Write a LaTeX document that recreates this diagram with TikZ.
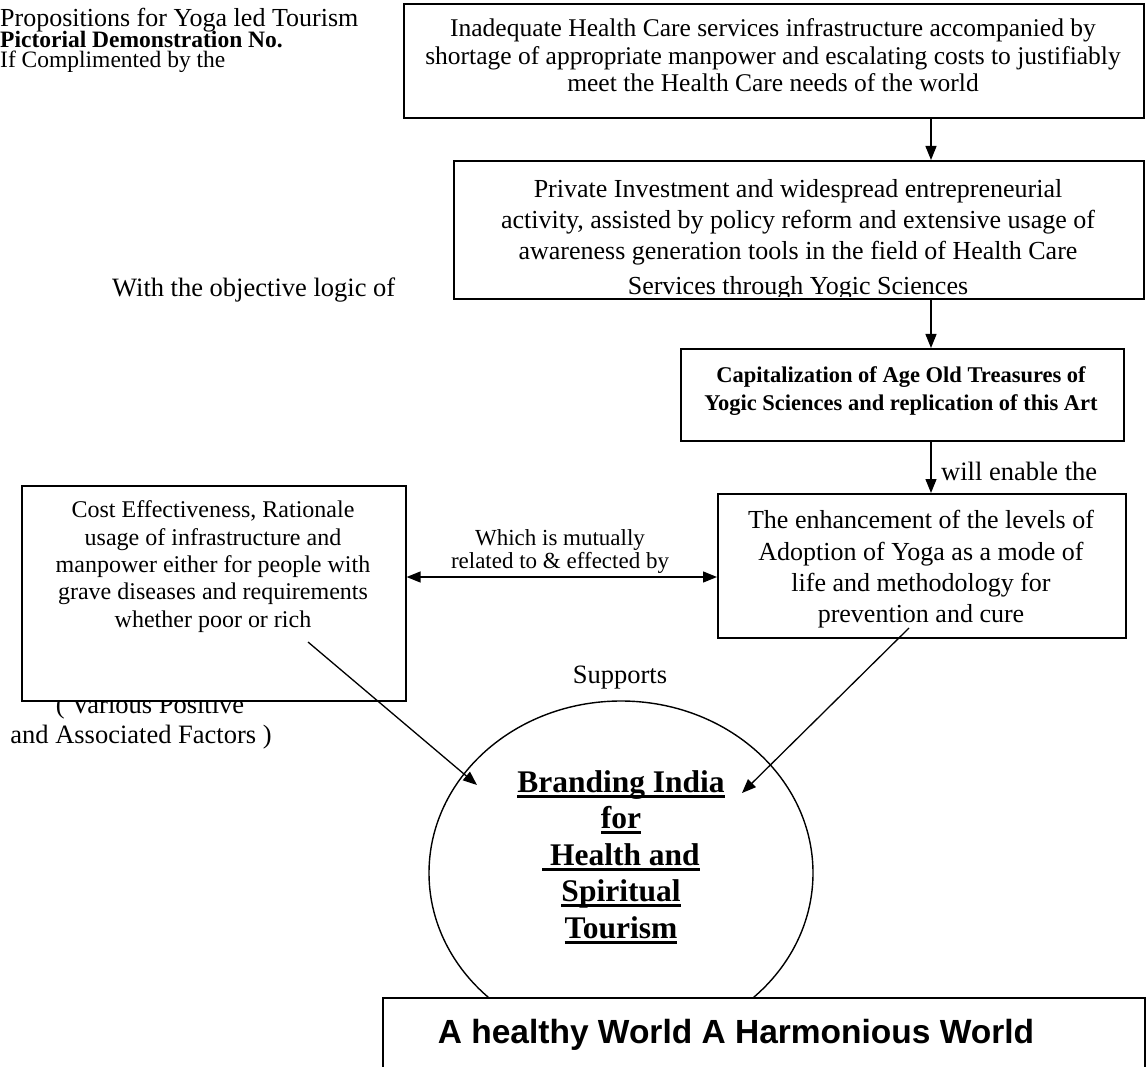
\documentclass[tikz,border=0pt]{standalone}
\usepackage{fontspec}
\setmainfont{Liberation Serif}
\newfontfamily\arialfont{Liberation Sans}
\usetikzlibrary{arrows.meta,shapes.geometric}
\newcommand\myul[1]{\setbox0\hbox{#1}\rlap{\rule[-6pt]{\wd0}{2.8pt}}\box0}
\begin{document}
\begin{tikzpicture}[x=1pt,y=-1pt,
  box/.style={draw, line width=1.6pt, fill=white, inner sep=0pt, anchor=north west},
  ln/.style={inner sep=0pt, anchor=base},
  lnw/.style={inner sep=0pt, anchor=base west},
  hd/.style={inner sep=0pt, anchor=base west, text height=14pt, text depth=4pt},
  arr/.style={line width=1.3pt, -{Triangle[length=14pt,width=11pt]}},
  darr/.style={line width=1.3pt, {Triangle[length=14pt,width=11pt]}-{Triangle[length=14pt,width=11pt]}},
  mainA/.style={font=\fontsize{25.5}{28}\selectfont},
  main/.style={font=\fontsize{26}{28}\selectfont},
  lab/.style={font=\fontsize{26.5}{28}\selectfont},
  small/.style={font=\fontsize{24}{27}\selectfont},
  lbl/.style={font=\fontsize{23}{22}\selectfont, text height=14pt, text depth=4pt},
  bld/.style={font=\fontsize{22.5}{26}\selectfont\bfseries},
  brandf/.style={font=\fontsize{31.5}{36}\selectfont\bfseries},
  worldf/.style={font=\fontsize{33.5}{36}\selectfont\arialfont\bfseries}]
\useasboundingbox (0,0) rectangle (1146,1067);

% header
\node[hd, font=\fontsize{26}{26}\selectfont] (h1) at (0,26.5) {Propositions for Yoga led Tourism};
\node[hd, font=\fontsize{23.5}{24}\selectfont\bfseries] (h2) at (0,47.5) {Pictorial Demonstration No.};
\node[hd, font=\fontsize{23.5}{24}\selectfont] (h3) at (0,68) {If Complimented by the};

\node[lnw, lab] (obj) at (112,297) {With the objective logic of};

% box 1
\node[box, minimum width=740pt, minimum height=114pt] (b1) at (403,3) {};
\foreach \t/\y [count=\i from 0] in {{Inadequate Health Care services infrastructure accompanied by}/37,{shortage of appropriate manpower and escalating costs to justifiably}/65,{meet the Health Care needs of the world}/92}
  \node[ln, mainA] (b1t\i) at (773,\y) {\t};

% box 2
\node[box, minimum width=690pt, minimum height=138pt] (b2) at (453,160) {};
\begin{scope}
  \clip (453,160) rectangle (1143,297);
  \foreach \t/\y [count=\i from 0] in {{Private Investment and widespread entrepreneurial}/198,{activity, assisted by policy reform and extensive usage of}/229,{awareness generation tools in the field of Health Care}/260,{Services through Yogic Sciences}/295}
    \node[ln, main] (b2t\i) at (798,\y) {\t};
\end{scope}

% box 3
\node[box, minimum width=443pt, minimum height=92pt] (b3) at (680,348) {};
\node[ln, bld] (b3t0) at (901,382) {Capitalization of Age Old Treasures of};
\node[ln, bld] (b3t1) at (901,410) {Yogic Sciences and replication of this Art};

% box 4
\node[box, minimum width=408pt, minimum height=144pt] (b4) at (717,493) {};
\foreach \t/\y [count=\i from 0] in {{The enhancement of the levels of}/528,{Adoption of Yoga as a mode of}/560,{life and methodology for}/591,{prevention and cure}/622}
  \node[ln, main] (b4t\i) at (921,\y) {\t};

\node[lnw, lab] (enable) at (941,480) {will enable the};

% labels partly hidden behind box 5
\node[ln, lab] (vp1) at (150,713) {( Various Positive};
\node[ln, lab] (vp2) at (141,743) {and Associated Factors )};

% box 5
\node[box, minimum width=384pt, minimum height=215pt] (b5) at (21,485) {};
\foreach \t/\y [count=\i from 0] in {{Cost Effectiveness, Rationale}/517,{usage of infrastructure and}/545,{manpower either for people with}/572,{grave diseases and requirements}/599,{whether poor or rich}/627}
  \node[ln, small] (b5t\i) at (213,\y) {\t};

% mutual relation
\node[ln, lbl] (mu1) at (560,545) {Which is mutually};
\node[ln, lbl] (mu2) at (560,568) {related to \& effected by};
\coordinate (my) at (560,577);
\draw[darr] (b5.east |- my) -- (b4.west |- my);

\node[ln, lab] (sup) at (620,683) {Supports};

% vertical arrows
\coordinate (ax) at (931,0);
\draw[arr] (b1.south -| ax) -- (b2.north -| ax);
\draw[arr] (b2.south -| ax) -- (b3.north -| ax);
\draw[arr] (b3.south -| ax) -- (b4.north -| ax);

% ellipse
\node[draw, ellipse, line width=1.4pt, minimum width=384pt, minimum height=344pt, inner sep=0pt] (brand) at (621,873) {};
\foreach \t/\y [count=\i from 0] in {{Branding India}/792,{for}/828,{\ Health and}/865,{Spiritual}/901,{Tourism}/938}
  \node[ln, brandf] (br\i) at (621,\y) {\myul{\t}};

% arrows to ellipse
\coordinate (ls) at (308,642);
\coordinate (lt) at (477,785);
\coordinate (rs) at (909,628);
\coordinate (rt) at (742,793);
\draw[arr] (ls) -- (lt);
\draw[arr] (rs) -- (rt);

% bottom box
\node[box, minimum width=762pt, minimum height=120pt] (world) at (382,997) {};
\node[ln, worldf] (wt) at (736,1043) {A healthy World A Harmonious World};
\end{tikzpicture}
\end{document}
